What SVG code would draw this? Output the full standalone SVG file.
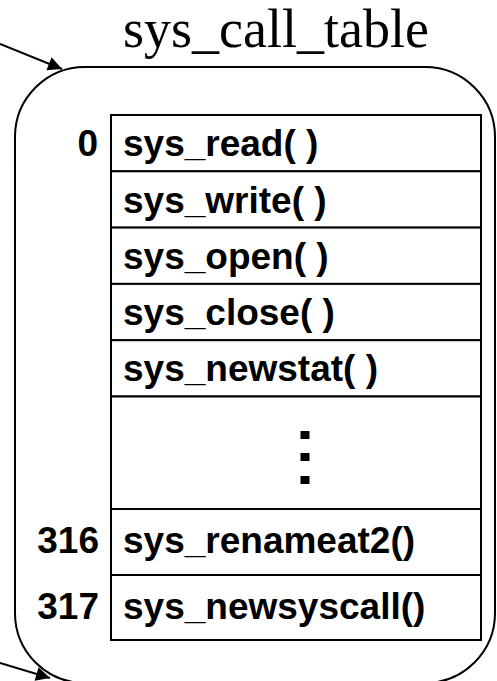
<svg xmlns="http://www.w3.org/2000/svg" width="497" height="681" viewBox="0 0 497 681">
  <style>
    .title { font-family: "Liberation Serif", "Times New Roman", serif; font-size: 54px; fill: #000; }
    .cell { font-family: "Liberation Sans", Arial, sans-serif; font-size: 37px; font-weight: bold; fill: #000; }
    .idx { font-family: "Liberation Sans", Arial, sans-serif; font-size: 37px; font-weight: bold; fill: #000; text-anchor: end; }
    .box { fill: none; stroke: #000; stroke-width: 2; }
    .row { fill: #fff; stroke: #000; stroke-width: 2; }
    .edge { fill: none; stroke: #000; stroke-width: 2; }
  </style>
  <defs>
    <marker id="arrow" viewBox="0 0 10 10" refX="10" refY="5" markerWidth="9" markerHeight="7" markerUnits="strokeWidth" orient="auto">
      <path d="M0,0 L10,5 L0,10 z" fill="#000"/>
    </marker>
  </defs>

  <rect width="497" height="681" fill="#fff"/>

  <!-- outer container with table title -->
  <g id="sys_call_table">
    <text class="title" x="123" y="47">sys_call_table</text>
    <rect class="box" x="15" y="67" width="480" height="616" rx="70" ry="70"/>
  </g>

  <!-- table entries -->
  <g id="entry-0">
    <rect class="row" x="111" y="115" width="370" height="56.3"/>
    <text class="idx" x="98" y="156">0</text>
    <text class="cell" x="123" y="156">sys_read( )</text>
  </g>
  <g id="entry-1">
    <rect class="row" x="111" y="171.3" width="370" height="56.3"/>
    <text class="cell" x="123" y="212.5">sys_write( )</text>
  </g>
  <g id="entry-2">
    <rect class="row" x="111" y="227.6" width="370" height="56.3"/>
    <text class="cell" x="123" y="268.8">sys_open( )</text>
  </g>
  <g id="entry-3">
    <rect class="row" x="111" y="283.9" width="370" height="56.3"/>
    <text class="cell" x="123" y="325">sys_close( )</text>
  </g>
  <g id="entry-4">
    <rect class="row" x="111" y="340.2" width="370" height="56.3"/>
    <text class="cell" x="123" y="381.4">sys_newstat( )</text>
  </g>
  <g id="entry-gap">
    <rect class="row" x="111" y="396.5" width="370" height="112.5"/>
    <rect x="300.5" y="431" width="9" height="8" fill="#000"/>
    <rect x="300.5" y="453" width="9" height="8" fill="#000"/>
    <rect x="300.5" y="476" width="9" height="8" fill="#000"/>
  </g>
  <g id="entry-316">
    <rect class="row" x="111" y="509" width="370" height="66"/>
    <text class="idx" x="99" y="553">316</text>
    <text class="cell" x="123" y="553">sys_renameat2()</text>
  </g>
  <g id="entry-317">
    <rect class="row" x="111" y="575" width="370" height="65"/>
    <text class="idx" x="99" y="619">317</text>
    <text class="cell" x="123" y="619">sys_newsyscall()</text>
  </g>

  <!-- incoming pointers -->
  <g id="connectors">
    <line class="edge" x1="0" y1="44" x2="62" y2="69" marker-end="url(#arrow)"/>
    <line class="edge" x1="0" y1="663" x2="50" y2="678" marker-end="url(#arrow)"/>
  </g>
</svg>
